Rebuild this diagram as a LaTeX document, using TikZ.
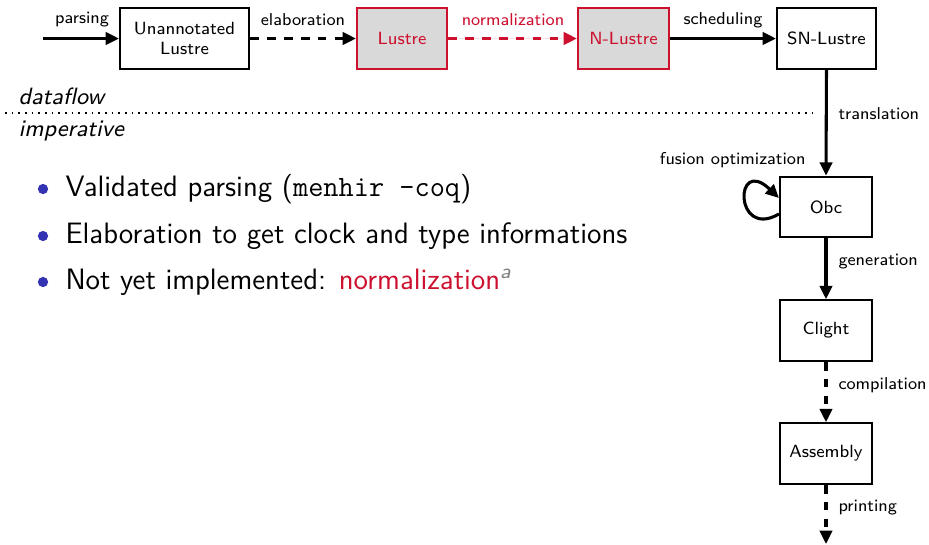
\documentclass[tikz,border=0pt]{standalone}
\usetikzlibrary{arrows.meta,calc}
\definecolor{alertred}{RGB}{204,16,46}
\definecolor{boxgray}{RGB}{217,217,217}
\definecolor{bulletblue}{RGB}{51,51,179}
\begin{document}
\begin{tikzpicture}[x=0.39pt,y=-0.39pt,
  font=\sffamily,
  box/.style={draw=black,line width=0.8pt,inner sep=0pt,minimum width=35.9pt,minimum height=23.6pt,align=center,font=\sffamily\fontsize{6.9}{8}\selectfont},
  redbox/.style={box,draw=alertred,fill=boxgray,text=alertred},
  lbl/.style={inner sep=0pt,font=\sffamily\fontsize{6.7}{8}\selectfont},
  arr/.style={line width=1.2pt,-{Triangle[length=5.2pt,width=4.8pt]}},
  dsh/.style={dash pattern=on 3.4pt off 3.2pt},
  bul/.style={anchor=west,inner sep=0pt,font=\sffamily\fontsize{11.5}{13}\selectfont},
  side/.style={anchor=west,inner sep=0pt,font=\sffamily\itshape\fontsize{9.2}{11}\selectfont}]
\useasboundingbox (0,0) rectangle (929,544);

% top row
\coordinate (pstart) at (43,38.5);
\node[box,minimum width=50.3pt] (un) at (184.5,38.5) {Unannotated\\Lustre};
\node[redbox,minimum width=35.1pt] (lu) at (402,38.5) {Lustre};
\node[redbox,minimum width=35.5pt] (nl) at (623.5,38.5) {N-Lustre};
\node[box,minimum width=38.6pt] (sn) at (826.5,38.5) {SN-Lustre};

% column
\node[box] (obc) at (826,207) {Obc};
\node[box] (cl) at (826,330.5) {Clight};
\node[box] (as) at (826,453.5) {Assembly};
\coordinate (pend) at (826,544);

% connectors
\draw[arr] (pstart) -- (un.west);
\draw[arr,dsh] (un.east) -- (lu.west);
\draw[arr,dsh,draw=alertred,fill=alertred] (lu.east) -- (nl.west);
\draw[arr] (nl.east) -- (sn.west);
\draw[arr] (sn.south) -- (obc.north);
\draw[arr] (obc.south) -- (cl.north);
\draw[arr,dsh] (cl.south) -- (as.north);
\draw[arr,dsh] (as.south) -- (pend);
\coordinate (lpA) at ($(obc.west)+(0,7)$);
\coordinate (lpB) at ($(obc.west)+(0,-9)$);
\draw[arr] (lpA) .. controls +(-45,26) and +(-45,-43) .. (lpB);

% labels
\node[lbl] (lparse) at (82,20) {parsing};
\node[lbl] (lelab) at (303,20) {elaboration};
\node[lbl,text=alertred] (lnorm) at (513,20) {normalization};
\node[lbl] (lsched) at (723,20) {scheduling};
\node[lbl,anchor=west] (ltrans) at (838,114) {translation};
\node[lbl,anchor=east] (lfus) at (806,160) {fusion optimization};
\node[lbl,anchor=west] (lgen) at (838,262) {generation};
\node[lbl,anchor=west] (lcomp) at (838,385) {compilation};
\node[lbl,anchor=west] (lprint) at (838,508) {printing};

% dataflow / imperative
\coordinate (dl) at (5,113);
\coordinate (dr) at (815,113);
\draw[line width=0.6pt,dotted] (dl) -- (dr);
\node[side] (df) at (18,96) {dataflow};
\node[side] (imp) at (18,131) {imperative};

% bullets
\foreach \y/\n in {189/b1,236/b2,282/b3}
  \fill[bulletblue] (43,\y) circle (2pt);
\node[bul] (t1) at (65,189) {Validated parsing ({\ttfamily menhir -coq})};
\node[bul] (t2) at (65,236) {Elaboration to get clock and type informations};
\node[bul] (t3) at (65,282) {Not yet implemented: \textcolor{alertred}{normalization}\textsuperscript{\textcolor{gray}{\itshape a}}};
\end{tikzpicture}
\end{document}
